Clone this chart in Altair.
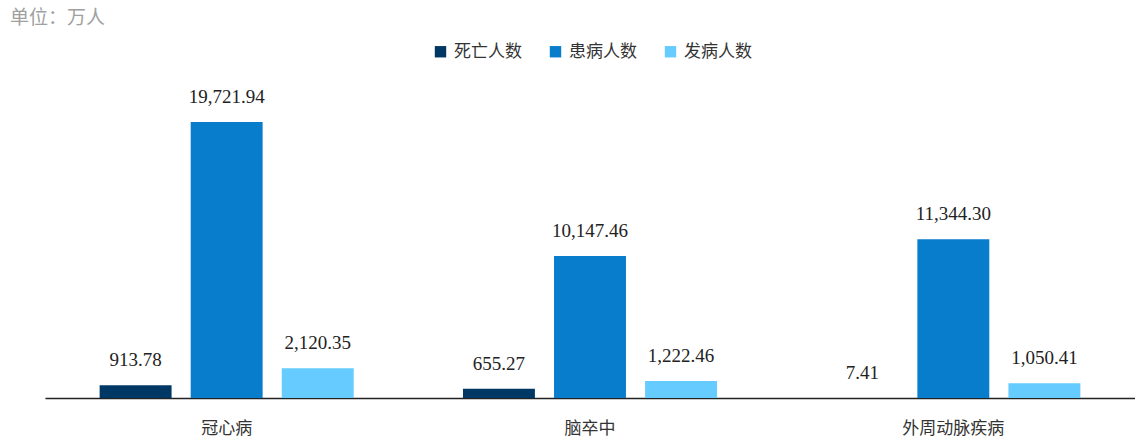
import altair as alt
import pandas as pd

categories = ["冠心病", "脑卒中", "外周动脉疾病"]
series = ["死亡人数", "患病人数", "发病人数"]
deaths = [913.78, 655.27, 7.41]
prevalence = [19721.94, 10147.46, 11344.30]
incidence = [2120.35, 1222.46, 1050.41]
colors = ["#003865", "#087dcc", "#66ccff"]

rows = []
for i, c in enumerate(categories):
    for s, vals in zip(series, [deaths, prevalence, incidence]):
        rows.append({"category": c, "series": s, "value": vals[i],
                     "label": f"{vals[i]:,.2f}"})
df = pd.DataFrame(rows)

x = alt.X("category:N", sort=categories, title=None,
          scale=alt.Scale(paddingInner=0, paddingOuter=0),
          axis=alt.Axis(labelAngle=0, labelFont="Noto Sans CJK SC", labelFontSize=17,
                        labelColor="#333333", labelPadding=22, ticks=False, grid=False,
                        domainColor="#222222", domainWidth=1.5))
xo = alt.XOffset("series:N", sort=series,
                 scale=alt.Scale(paddingInner=0.21, paddingOuter=0.6))
y = alt.Y("value:Q", scale=alt.Scale(domain=[0, 25000], nice=False), axis=None)

bars = alt.Chart(df).mark_bar().encode(
    x=x, xOffset=xo, y=y,
    color=alt.Color("series:N", sort=series,
                    scale=alt.Scale(domain=series, range=colors),
                    legend=alt.Legend(title=None, orient="none", direction="horizontal",
                                      legendX=387, legendY=-5, symbolType="square",
                                      symbolSize=130, symbolStrokeWidth=0,
                                      labelFont="Noto Sans CJK SC", labelFontSize=17,
                                      labelColor="#333333", columnPadding=25,
                                      symbolOffset=0, labelOffset=5)),
)

labels = alt.Chart(df).mark_text(baseline="alphabetic", dy=-19, font="Liberation Serif",
                                 fontSize=19, color="#222222").encode(
    x=x, xOffset=xo, y=y, text="label:N")

unit_df = pd.DataFrame({"t": ["单位：万人"]})
unit = alt.Chart(unit_df).mark_text(align="left", baseline="middle", font="Noto Sans CJK SC",
                                    fontSize=19, color="#a0a0a0").encode(
    x=alt.value(-35), y=alt.value(-30), text="t:N")

chart = alt.layer(bars, labels, unit).properties(
    width=1090, height=350,
    background="white",
    autosize=alt.AutoSizeParams(type="none"),
    padding={"left": 45, "top": 48, "right": 0, "bottom": 42},
).configure_view(stroke=None, strokeWidth=0)

chart.save("out.html", embed_options={"renderer": "svg", "actions": False})
